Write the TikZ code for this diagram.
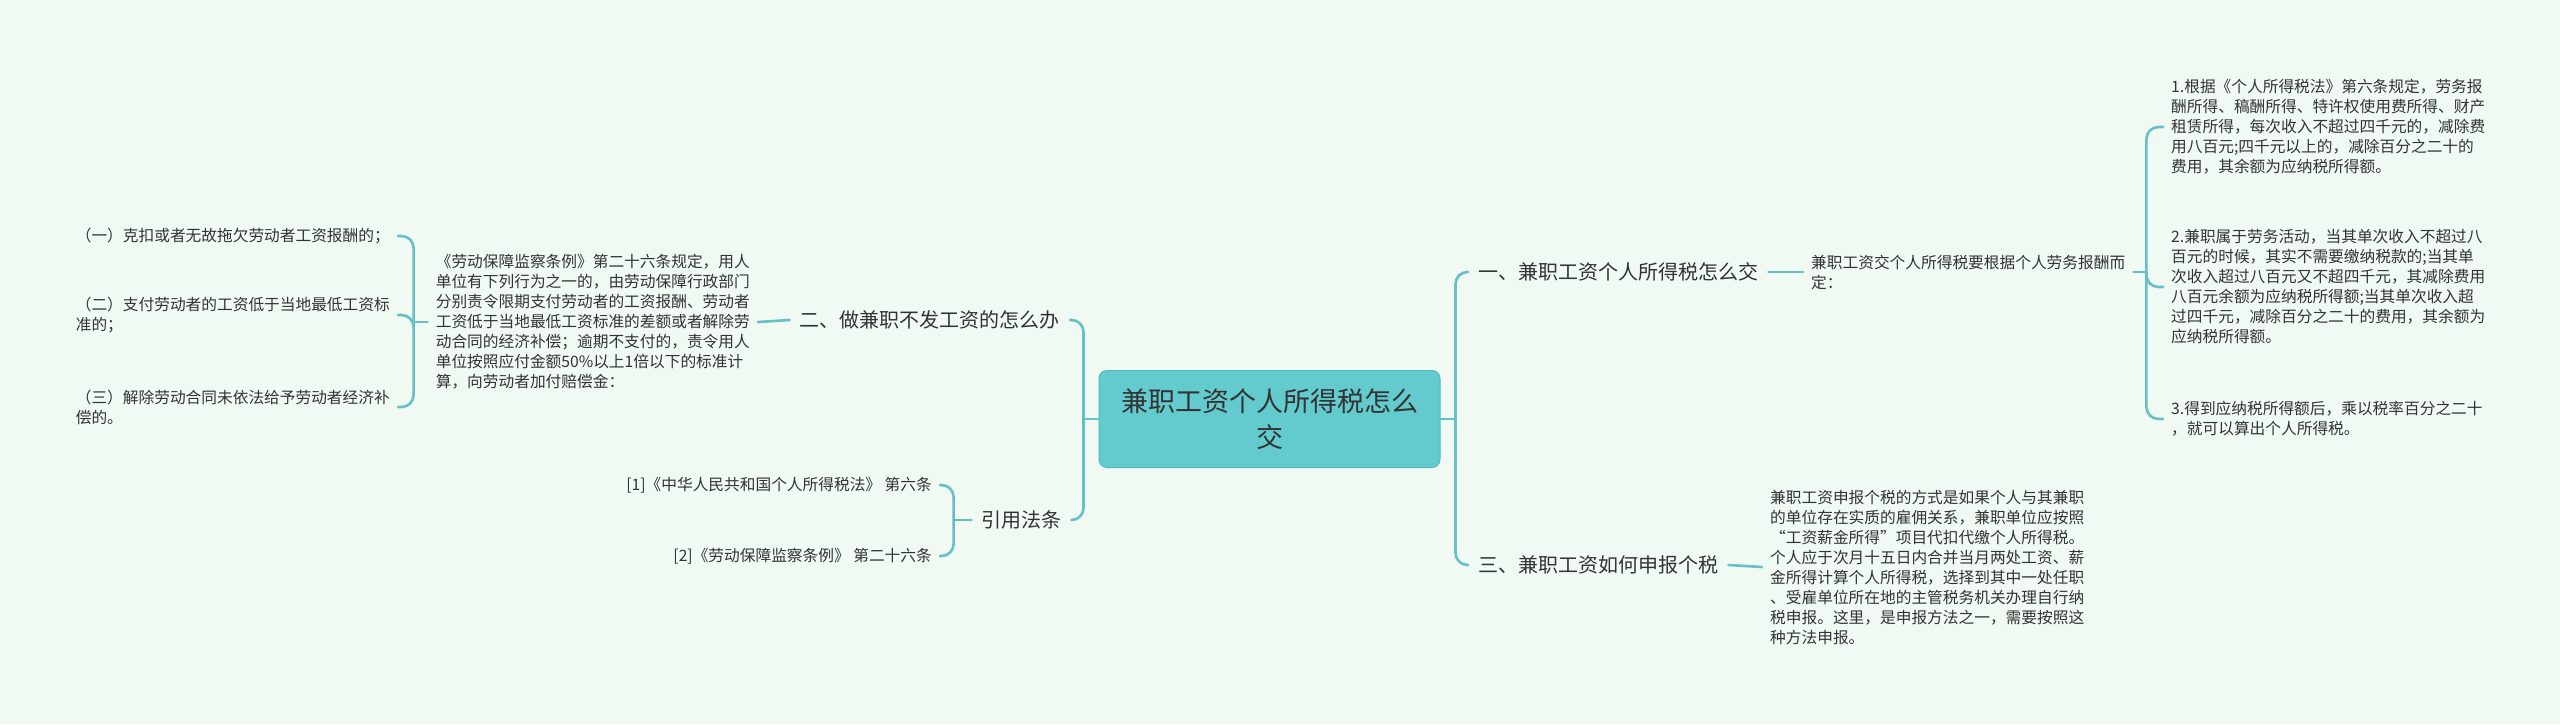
\documentclass[tikz,border=0pt]{standalone}
\usepackage{fontspec}
\usepackage{tikz}
\usetikzlibrary{positioning}
\newfontfamily\cjk{Noto Sans CJK SC}
\definecolor{MMBg}{RGB}{240,249,242}
\definecolor{MMTeal}{RGB}{99,202,205}
\definecolor{MMTealDark}{RGB}{84,186,190}
\definecolor{MMLine}{RGB}{102,192,198}
\definecolor{MMText}{RGB}{51,51,51}
\tikzset{
  mmroot/.style ={draw=MMTealDark, fill=MMTeal, rounded corners=8pt, line width=1pt,
                  minimum width=341pt, minimum height=97pt, align=center,
                  font=\cjk\fontsize{27}{36}\selectfont, text=MMText},
  mmtopic/.style={inner xsep=10pt, inner ysep=4pt, font=\cjk\fontsize{20}{26}\selectfont, text=MMText},
  mmleaf/.style ={inner xsep=8pt, inner ysep=3pt, align=left, font=\cjk\fontsize{15.7}{20}\selectfont, text=MMText},
  mmlink/.style ={draw=MMLine, line width=2.6pt, rounded corners=12pt},
}

\begin{document}
\begin{tikzpicture}[
  x=1pt,y=-1pt,
  line cap=round,
  line join=round
]

% --- Background ----------------------------------------------------------
\useasboundingbox[fill=MMBg] (0,0) rectangle (2560,724);

% --- Root ----------------------------------------------------------------
\node[mmroot] (root) at (1269.5,419) {兼职工资个人所得税怎么\\交};
\coordinate (rj) at ([xshift=15pt]root.east);
\coordinate (lj) at ([xshift=-15pt]root.west);

% --- Right topics --------------------------------------------------------
\node[mmtopic, anchor=west] (c1) at (1468,272) {一、兼职工资个人所得税怎么交};
\node[mmtopic, anchor=west] (c3) at (1468,565) {三、兼职工资如何申报个税};

\node[mmleaf, anchor=west] (d1) at (1803,272)
  {兼职工资交个人所得税要根据个人劳务报酬而\\定：};
\coordinate (dj) at ([xshift=13pt]d1.east);

\node[mmleaf, anchor=west] (f1) at (2163,127)
  {1.根据《个人所得税法》第六条规定，劳务报\\酬所得、稿酬所得、特许权使用费所得、财产\\租赁所得，每次收入不超过四千元的，减除费\\用八百元;四千元以上的，减除百分之二十的\\费用，其余额为应纳税所得额。};
\node[mmleaf, anchor=west] (f2) at (2163,287)
  {2.兼职属于劳务活动，当其单次收入不超过八\\百元的时候，其实不需要缴纳税款的;当其单\\次收入超过八百元又不超四千元，其减除费用\\八百元余额为应纳税所得额;当其单次收入超\\过四千元，减除百分之二十的费用，其余额为\\应纳税所得额。};
\node[mmleaf, anchor=west] (f3) at (2163,419)
  {3.得到应纳税所得额后，乘以税率百分之二十\\，就可以算出个人所得税。};

\node[mmleaf, anchor=west] (d3) at (1762,567)
  {兼职工资申报个税的方式是如果个人与其兼职\\的单位存在实质的雇佣关系，兼职单位应按照\\“工资薪金所得”项目代扣代缴个人所得税。\\个人应于次月十五日内合并当月两处工资、薪\\金所得计算个人所得税，选择到其中一处任职\\、受雇单位所在地的主管税务机关办理自行纳\\税申报。这里，是申报方法之一，需要按照这\\种方法申报。};

% --- Left topics ---------------------------------------------------------
\node[mmtopic, anchor=east] (c2) at (1070,320) {二、做兼职不发工资的怎么办};
\node[mmtopic, anchor=east] (c4) at (1072,520) {引用法条};

\node[mmleaf, anchor=east] (p2) at (758,322)
  {《劳动保障监察条例》第二十六条规定，用人\\单位有下列行为之一的，由劳动保障行政部门\\分别责令限期支付劳动者的工资报酬、劳动者\\工资低于当地最低工资标准的差额或者解除劳\\动合同的经济补偿；逾期不支付的，责令用人\\单位按照应付金额50\%以上1倍以下的标准计\\算，向劳动者加付赔偿金：};
\coordinate (pj) at ([xshift=-14pt]p2.west);

\node[mmleaf, anchor=east] (e1) at (398,236) {（一）克扣或者无故拖欠劳动者工资报酬的；};
\node[mmleaf, anchor=east] (e2) at (398,315) {（二）支付劳动者的工资低于当地最低工资标\\准的；};
\node[mmleaf, anchor=east] (e3) at (398,407) {（三）解除劳动合同未依法给予劳动者经济补\\偿的。};

\coordinate (cj) at ([xshift=-18pt]c4.west);
\node[mmleaf, anchor=east] (r1) at (940,485) {[1]《中华人民共和国个人所得税法》 第六条};
\node[mmleaf, anchor=east] (r2) at (940,556) {[2]《劳动保障监察条例》 第二十六条};

% --- Links ---------------------------------------------------------------
\draw[mmlink] (root.east) -- (rj);
\draw[mmlink] (rj) |- (c1.west);
\draw[mmlink] (rj) |- (c3.west);
\draw[mmlink] (root.west) -- (lj);
\draw[mmlink] (lj) |- (c2.east);
\draw[mmlink] (lj) |- (c4.east);

\draw[mmlink] (c1.east) -- (d1.west);
\draw[mmlink] (d1.east) -- (dj);
\draw[mmlink] (dj) |- (f1.west);
\draw[mmlink] (dj) |- (f2.west);
\draw[mmlink] (dj) |- (f3.west);
\draw[mmlink] (c3.east) -- (d3.west);

\draw[mmlink] (c2.west) -- (p2.east);
\draw[mmlink] (p2.west) -- (pj);
\draw[mmlink] (pj) |- (e1.east);
\draw[mmlink] (pj) |- (e2.east);
\draw[mmlink] (pj) |- (e3.east);

\draw[mmlink] (c4.west) -- (cj);
\draw[mmlink] (cj) |- (r1.east);
\draw[mmlink] (cj) |- (r2.east);

\end{tikzpicture}
\end{document}
